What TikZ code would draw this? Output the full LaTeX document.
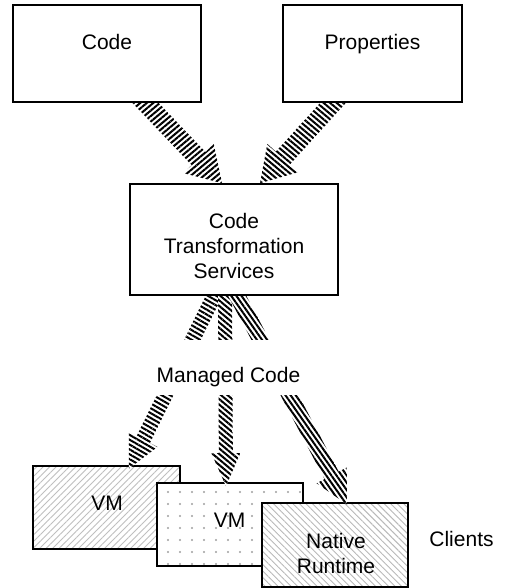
\documentclass[tikz,border=0pt]{standalone}
\usepackage{fontspec}
\setmainfont{Liberation Sans}
\usetikzlibrary{calc,patterns.meta}
\pgfdeclarelayer{clientlayer}
\pgfdeclarelayer{arrowlayer}
\pgfsetlayers{clientlayer,arrowlayer,main}
% #1 start, #2 tip, #3 shaft half width, #4 head half width, #5 head length, #6 stripe angle, #7 id
\newcommand\fatarr[7]{%
  \coordinate (#7-h) at ($(#2)!#5!(#1)$);
  \path[fill=white, postaction={pattern={Lines[angle=#6,distance=4.2pt,line width=2pt]}, pattern color=black}]
   ($(#1)!#3!90:(#2)$) -- ($(#7-h)!#3!90:(#2)$) -- ($(#7-h)!#4!90:(#2)$) -- (#2)
   -- ($(#7-h)!#4!-90:(#2)$) -- ($(#7-h)!#3!-90:(#2)$) -- ($(#1)!#3!-90:(#2)$) -- cycle;
}
\begin{document}
\begin{tikzpicture}[x=1pt,y=-1pt,
  font=\fontsize{21}{25}\selectfont,
  box/.style={draw=black, line width=1.6pt, fill=white, inner sep=0pt},
  client/.style={draw=black, line width=1.6pt, inner sep=0pt, minimum width=146pt, minimum height=83pt},
  txt/.style={inner sep=0pt, align=center}]
\useasboundingbox (0,0) rectangle (509,588);

% top boxes
\node[box, minimum width=188pt, minimum height=97pt] (code) at (107,53.5) {};
\node[txt, anchor=base] (codetxt) at (107,50) {Code};
\node[box, minimum width=179pt, minimum height=97pt] (prop) at (372.5,53.5) {};
\node[txt, anchor=base] (proptxt) at (372.5,49.5) {Properties};

% transformation box
\node[box, minimum width=208pt, minimum height=111pt] (cts) at (234,239.5) {};
\node[txt] (ctstxt) at (234,246) {Code\\Transformation\\Services};

% clients
\begin{pgfonlayer}{clientlayer}
\node[client, minimum width=147pt, preaction={fill=white},
      pattern={Lines[angle=45,distance=4.6pt,line width=0.9pt]}, pattern color=gray!50] (vm1) at (106.5,507.5) {};
\node[txt] (vm1txt) at (107,503) {VM};
\node[client, preaction={fill=white},
      pattern={Dots[radius=1.1pt,distance=12pt]}, pattern color=gray!75] (vm2) at (230,524.5) {};
\node[txt] (vm2txt) at (229.5,520) {VM};
\node[client, minimum height=84pt, preaction={fill=white},
      pattern={Lines[angle=-45,distance=4.6pt,line width=0.9pt]}, pattern color=gray!55] (nat) at (335,545) {};
\node[txt] (nattxt) at (336,553) {Native\\Runtime};
\end{pgfonlayer}
\node[txt] (clients) at (461.5,539) {Clients};

% arrows
\begin{pgfonlayer}{arrowlayer}
\coordinate (a1s) at ($(code.south)+(27,-12)$);
\coordinate (a1t) at ($(cts.north)+(-12,0)$);
\coordinate (a2s) at ($(prop.south)+(-28.5,-12)$);
\coordinate (a2t) at ($(cts.north)+(26,0)$);
\fatarr{a1s}{a1t}{9.5pt}{21pt}{34pt}{40}{ar1}
\fatarr{a2s}{a2t}{9.5pt}{21pt}{34pt}{-40}{ar2}

\coordinate (b1s) at ($(cts.south)+(-15,-10)$);
\coordinate (b1t) at ($(vm1.north)+(22.5,3)$);
\coordinate (b2s) at ($(cts.south)+(-9,-10)$);
\coordinate (b2t) at ($(vm2.north)+(-4,4)$);
\coordinate (b3s) at ($(cts.south)+(-2,-10)$);
\coordinate (b3t) at ($(nat.north)+(12,2)$);
\fatarr{b1s}{b1t}{7.5pt}{16pt}{32pt}{-30}{br1}
\fatarr{b2s}{b2t}{7pt}{14.5pt}{33pt}{-40}{br2}
\fatarr{b3s}{b3t}{8pt}{17pt}{33pt}{-55}{br3}
\end{pgfonlayer}

% label covering the middle of the lower arrows
\node[fill=white, inner ysep=0pt, inner xsep=3pt, text height=42.5pt, text depth=12.5pt] (managed) at (228.5,367.5) {Managed Code};
\end{tikzpicture}
\end{document}
